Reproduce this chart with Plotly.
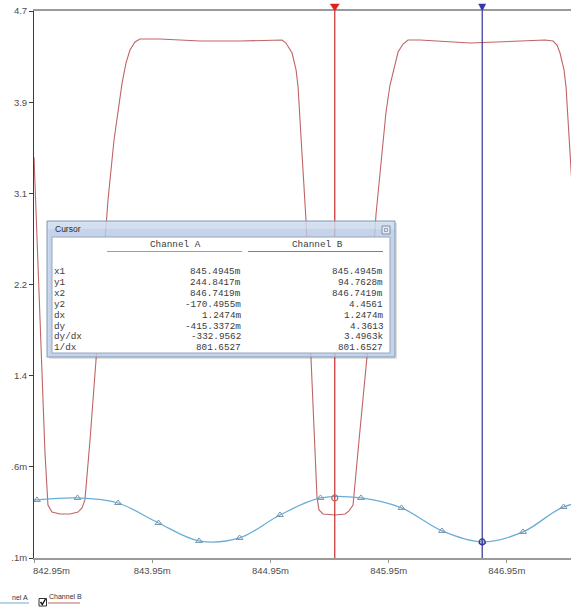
import plotly.graph_objects as go

# ---------------- data ----------------
# Channel B (red trace), x in m-units, y in volts
chb_x = [842.950, 842.984, 843.018, 843.043, 843.068, 843.102, 843.170, 843.255, 843.322, 843.356,
         843.381, 843.424, 843.500, 843.576, 843.627, 843.661, 843.695, 843.728, 843.762, 843.804,
         843.847, 844.016, 844.354, 844.693, 844.947, 845.048, 845.082, 845.133, 845.167, 845.184,
         845.217, 845.251, 845.293, 845.319, 845.344, 845.361, 845.395, 845.497, 845.582, 845.615,
         845.649, 845.700, 845.767, 845.843, 845.928, 845.962, 845.996, 846.030, 846.072, 846.114,
         846.216, 846.639, 847.062, 847.273, 847.341, 847.375, 847.400, 847.434, 847.451, 847.485,
         847.519, 847.561]
chb_y = [3.393, 2.456, 1.456, 0.702, 0.229, 0.165, 0.147, 0.147, 0.165, 0.202,
         0.275, 0.820, 1.911, 3.002, 3.547, 3.820, 4.065, 4.247, 4.365, 4.438,
         4.465, 4.465, 4.447, 4.447, 4.456, 4.456, 4.429, 4.338, 4.184, 4.029,
         3.429, 2.820, 1.575, 0.911, 0.302, 0.184, 0.147, 0.138, 0.147, 0.175,
         0.229, 0.820, 1.575, 2.865, 3.802, 4.047, 4.211, 4.347, 4.420, 4.456,
         4.456, 4.429, 4.447, 4.456, 4.447, 4.411, 4.338, 4.184, 4.029, 3.429,
         2.820, 1.575]

# Channel A (blue trace, sampled points with triangle markers)
cha_x = [842.633, 842.975, 843.318, 843.661, 844.003, 844.346, 844.689, 845.031, 845.374,
         845.716, 846.059, 846.402, 846.744, 847.087, 847.430, 847.772]
cha_y = [0.229, 0.275, 0.293, 0.247, 0.065, -0.098, -0.071, 0.138, 0.293,
         0.293, 0.202, -0.007, -0.107, -0.016, 0.211, 0.284]

# cursors
cursor_x = [845.4945, 846.7419]
cursor_a_y = [0.293, -0.107]

x_tick_vals = [842.95, 843.95, 844.95, 845.95, 846.95]
x_tick_text = ["842.95m", "843.95m", "844.95m", "845.95m", "846.95m"]
y_tick_vals = [4.72, 3.891, 3.062, 2.234, 1.405, 0.576, -0.253]
# the two lowest labels are shown only as far as they are visible in the reference
y_tick_text = ["4.7", "3.9", "3.1", "2.2", "1.4", ".6m", ".1m"]

series_names = ["Channel A", "Channel B"]
legend_texts = ["nel A", "Channel B"]   # first legend entry is cut at the left edge
table_rows = ["x1", "y1", "x2", "y2", "dx", "dy", "dy/dx", "1/dx"]
table_a = ["845.4945m", "244.8417m", "846.7419m", "-170.4955m", "1.2474m", "-415.3372m", "-332.9562", "801.6527"]
table_b = ["845.4945m", "94.7628m", "846.7419m", "4.4561", "1.2474m", "4.3613", "3.4963k", "801.6527"]

# ---------------- layout constants ----------------
X_RANGE = [842.95, 847.493]
Y_RANGE = [-0.253, 4.72]
W, H = 571, 610
ML, MR, MT, MB = 34, 0, 11, 52
PW = W - ML - MR
PH = H - MT - MB

RED = "#c06464"
BLUE = "#6aaed6"
CUR_RED = "#cc2a2a"
CUR_BLUE = "#30309a"


def px(x):
    return (x - ML) / PW


def py(y):
    return (H - MB - y) / PH


def xdata_to_paper(v):
    return (v - X_RANGE[0]) / (X_RANGE[1] - X_RANGE[0])


fig = go.Figure()

fig.add_trace(go.Scatter(x=chb_x, y=chb_y, mode="lines", name=series_names[1],
                         line=dict(color=RED, width=1.1)))
fig.add_trace(go.Scatter(x=cha_x, y=cha_y, mode="lines+markers", name=series_names[0],
                         line=dict(color=BLUE, width=1.3, shape="spline", smoothing=1.0),
                         marker=dict(symbol="triangle-up-open", size=6, color="#7896ae",
                                     line=dict(width=1))))

# cursor lines
for cx, col in zip(cursor_x, [CUR_RED, CUR_BLUE]):
    fig.add_trace(go.Scatter(x=[cx, cx], y=Y_RANGE, mode="lines",
                             line=dict(color=col, width=1.2), hoverinfo="skip"))

# cursor intersection circles on channel A
fig.add_trace(go.Scatter(x=cursor_x, y=cursor_a_y, mode="markers",
                         marker=dict(symbol="circle-open", size=6, color=[RED, CUR_BLUE],
                                     line=dict(width=1.2))))

shapes = []
annotations = []

# cursor handles at the top edge (pixel-sized triangles anchored on the cursor x)
for cx, col, hw in zip(cursor_x, ["#e02020", "#3535b0"], [4.5, 3.5]):
    shapes.append(dict(type="path", xref="paper", yref="paper", layer="above",
                       xsizemode="pixel", ysizemode="pixel",
                       xanchor=xdata_to_paper(cx), yanchor=1,
                       path="M {0},{1} L {2},{1} L 0,0 Z".format(-hw, 7, hw),
                       fillcolor=col, line=dict(color=col, width=0.5)))

# first x tick label (left aligned at axis start)
annotations.append(dict(x=x_tick_vals[0], xref="x", y=0, yref="paper", yanchor="top",
                        xanchor="left", yshift=-5, xshift=-3, showarrow=False,
                        text=x_tick_text[0], font=dict(family="Liberation Sans", size=9.5, color="#4d4d4d")))

# ---------- cursor dialog ----------
dl, dt, dr, db = 47, 221, 395, 357
shapes.append(dict(type="rect", xref="paper", yref="paper", layer="above",
                   x0=px(dl + 2), x1=px(dr + 2), y0=py(db + 2), y1=py(dt + 2),
                   fillcolor="rgba(0,0,0,0.12)", line=dict(width=0)))
shapes.append(dict(type="rect", xref="paper", yref="paper", layer="above",
                   x0=px(dl), x1=px(dr), y0=py(db), y1=py(dt),
                   fillcolor="rgba(190,209,236,0.8)", line=dict(color="#8399b4", width=1)))
shapes.append(dict(type="rect", xref="paper", yref="paper", layer="above",
                   x0=px(dl + 1), x1=px(dr - 1), y0=py(229), y1=py(dt + 1),
                   fillcolor="rgba(255,255,255,0.25)", line=dict(width=0)))
shapes.append(dict(type="rect", xref="paper", yref="paper", layer="above",
                   x0=px(52), x1=px(390), y0=py(353), y1=py(237),
                   fillcolor="white", line=dict(color="#97a6b8", width=1)))
# close button
shapes.append(dict(type="rect", xref="paper", yref="paper", layer="above",
                   x0=px(382), x1=px(390), y0=py(234), y1=py(226),
                   fillcolor="#e4ebf4", line=dict(color="#7d8ea5", width=1)))
shapes.append(dict(type="rect", xref="paper", yref="paper", layer="above",
                   x0=px(384.5), x1=px(387.5), y0=py(231.5), y1=py(228.5),
                   fillcolor="rgba(0,0,0,0)", line=dict(color="#7d8ea5", width=0.8)))
annotations.append(dict(x=px(53), y=py(229), xref="paper", yref="paper", xanchor="left",
                        yanchor="middle", showarrow=False, text="Cursor",
                        font=dict(family="Liberation Sans", size=8.5, color="#2a2a2a")))

mono = dict(family="Liberation Mono", size=9.3, color="#3a3a3a")
annotations.append(dict(x=px(175), y=py(244), xref="paper", yref="paper", xanchor="center",
                        yanchor="middle", showarrow=False, text=series_names[0], font=mono))
annotations.append(dict(x=px(317), y=py(244), xref="paper", yref="paper", xanchor="center",
                        yanchor="middle", showarrow=False, text=series_names[1], font=mono))
shapes.append(dict(type="line", xref="paper", yref="paper", layer="above",
                   x0=px(107), x1=px(242), y0=py(251.5), y1=py(251.5),
                   line=dict(color=BLUE, width=1.2)))
shapes.append(dict(type="line", xref="paper", yref="paper", layer="above",
                   x0=px(248), x1=px(383), y0=py(251.5), y1=py(251.5),
                   line=dict(color=RED, width=1.2)))

row_y0, row_step = 271.6, 10.88
for i, (lab, va, vb) in enumerate(zip(table_rows, table_a, table_b)):
    yy = py(row_y0 + i * row_step)
    annotations.append(dict(x=px(52), y=yy, xref="paper", yref="paper", xanchor="left",
                            yanchor="middle", showarrow=False, text=lab, font=mono))
    annotations.append(dict(x=px(243), y=yy, xref="paper", yref="paper", xanchor="right",
                            yanchor="middle", showarrow=False, text=va, font=mono))
    annotations.append(dict(x=px(385), y=yy, xref="paper", yref="paper", xanchor="right",
                            yanchor="middle", showarrow=False, text=vb, font=mono))

# ---------- legend ----------
leg_font = dict(family="Liberation Sans", size=7, color="#333333")
annotations.append(dict(x=px(30), y=py(597), xref="paper", yref="paper", xanchor="right",
                        yanchor="middle", showarrow=False, text=legend_texts[0], font=leg_font))
shapes.append(dict(type="line", xref="paper", yref="paper", layer="above",
                   x0=px(0), x1=px(29), y0=py(603), y1=py(603),
                   line=dict(color=BLUE, width=1)))
annotations.append(dict(x=px(47), y=py(596.5), xref="paper", yref="paper", xanchor="left",
                        yanchor="middle", showarrow=False, text=legend_texts[1], font=leg_font))
shapes.append(dict(type="line", xref="paper", yref="paper", layer="above",
                   x0=px(48), x1=px(80), y0=py(603), y1=py(603),
                   line=dict(color=RED, width=1)))
shapes.append(dict(type="rect", xref="paper", yref="paper", layer="above",
                   x0=px(39), x1=px(46.5), y0=py(606), y1=py(598.5),
                   fillcolor="white", line=dict(color="#333333", width=1)))
shapes.append(dict(type="path", xref="paper", yref="paper", layer="above",
                   path="M {:.5f},{:.5f} L {:.5f},{:.5f} L {:.5f},{:.5f}".format(
                       px(40.5), py(602), px(42.3), py(604.5), px(45.5), py(599)),
                   line=dict(color="#111111", width=1.4)))

fig.update_layout(
    width=W, height=H,
    margin=dict(l=ML, r=MR, t=MT, b=MB, pad=0, autoexpand=False),
    paper_bgcolor="white", plot_bgcolor="white",
    showlegend=False,
    shapes=shapes, annotations=annotations,
    xaxis=dict(range=X_RANGE, showgrid=False, zeroline=False, automargin=False,
               showline=True, mirror=True, linecolor="#9a9a9a", linewidth=2,
               ticks="outside", ticklen=3, tickcolor="#9a9a9a",
               tickvals=x_tick_vals, ticktext=[""] + x_tick_text[1:],
               tickfont=dict(family="Liberation Sans", size=9.5, color="#4d4d4d")),
    yaxis=dict(range=Y_RANGE, showgrid=False, zeroline=False, automargin=False,
               showline=True, linecolor="#3a3a3a", linewidth=1,
               ticks="outside", ticklen=4, tickcolor="#3a3a3a",
               tickvals=y_tick_vals, ticktext=y_tick_text,
               tickfont=dict(family="Liberation Sans", size=9.5, color="#4d4d4d")),
)

fig.write_html("out.html", config={"displayModeBar": False},
               post_script="document.body.style.margin='0';document.body.style.padding='0';")
